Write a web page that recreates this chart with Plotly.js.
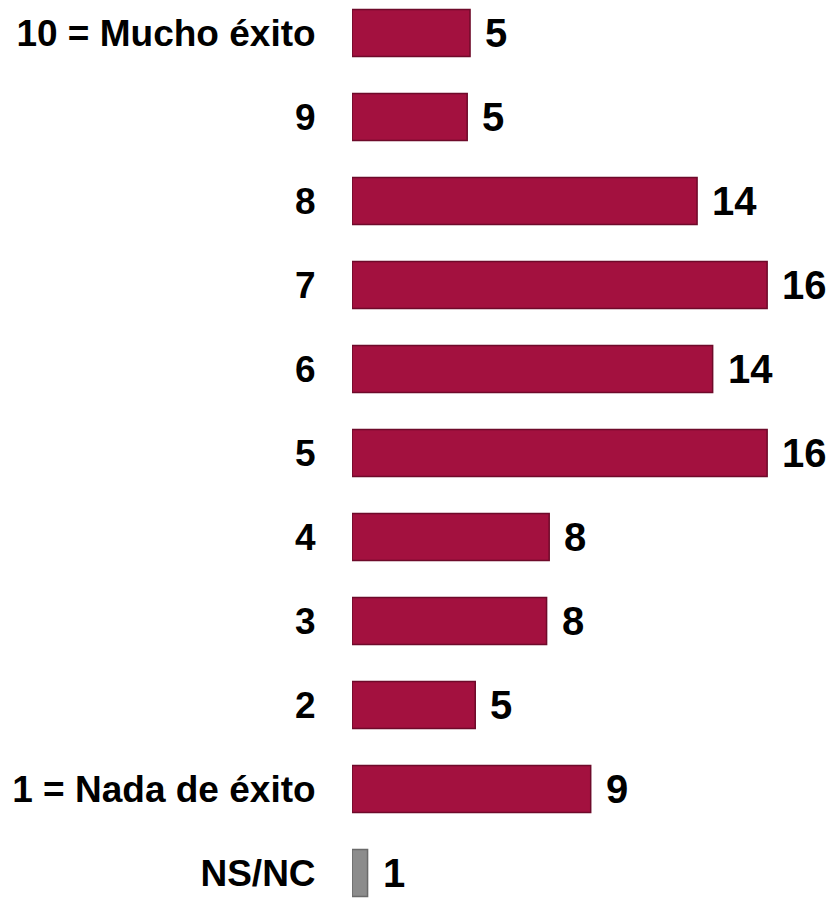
<!DOCTYPE html>
<html>
<head>
<meta charset="utf-8">
<script src="https://cdn.plot.ly/plotly-3.0.1.min.js"></script>
<style>html,body{margin:0;padding:0;background:#fff;}#chart{width:832px;height:899px;}</style>
</head>
<body>
<div id="chart"></div>
<script>
const categories = ["10 = Mucho éxito", "9", "8", "7", "6", "5", "4", "3", "2", "1 = Nada de éxito", "NS/NC"];
const values = [4.55, 4.44, 13.3, 16.0, 13.9, 16.0, 7.6, 7.5, 4.75, 9.2, 0.6];
const valueLabels = ["5", "5", "14", "16", "14", "16", "8", "8", "5", "9", "1"];
const barColors = categories.map(c => c === "NS/NC" ? "#8c8c8c" : "#a3113f");
const lineColors = categories.map(c => c === "NS/NC" ? "#6a6a6a" : "#6e0a2a");

const trace = {
  type: "bar",
  orientation: "h",
  x: values,
  y: categories,
  marker: {color: barColors, line: {color: lineColors, width: 1.5}},
  hoverinfo: "none"
};

const annotations = values.map((v, i) => ({
  x: v, y: i, xref: "x", yref: "y",
  text: valueLabels[i], showarrow: false, xanchor: "left", xshift: 13,
  font: {family: "Liberation Sans, Arial, sans-serif", size: 40, color: "#000", weight: "bold"}
}));

const layout = {
  width: 832, height: 899,
  margin: {l: 352, r: 0, t: 0, b: 0},
  paper_bgcolor: "#fff", plot_bgcolor: "#fff",
  bargap: 0.44,
  showlegend: false,
  xaxis: {range: [0, 18.5], visible: false, fixedrange: true},
  yaxis: {
    type: "category",
    range: [10.31, -0.393],
    showgrid: false, zeroline: false, showline: false,
    ticks: "outside", ticklen: 28, tickcolor: "rgba(0,0,0,0)",
    tickfont: {family: "Liberation Sans, Arial, sans-serif", size: 37, color: "#000", weight: "bold"}
  },
  annotations: annotations
};

Plotly.newPlot("chart", [trace], layout, {displayModeBar: false, staticPlot: true});
</script>
</body>
</html>
